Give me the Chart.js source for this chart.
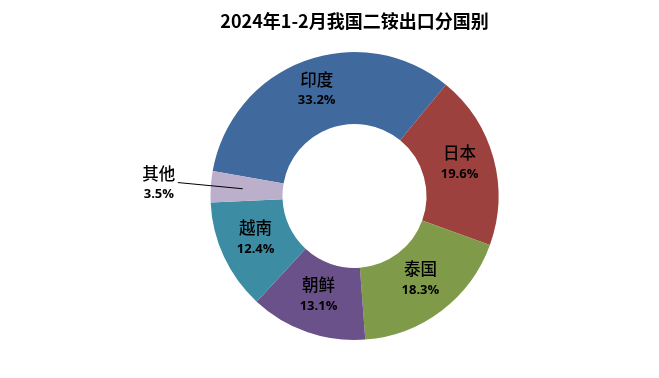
<!DOCTYPE html>
<html>
<head>
<meta charset="utf-8">
<script src="https://cdn.jsdelivr.net/npm/chart.js@4"></script>
<style>
  html, body { margin: 0; padding: 0; background: #fff; }
  #wrap { width: 659px; height: 378px; }
</style>
</head>
<body>
<div id="wrap"><canvas id="c" width="659" height="378"></canvas></div>
<script>
const countries = ['印度', '日本', '泰国', '朝鲜', '越南', '其他'];
const shares = [33.2, 19.6, 18.3, 13.1, 12.4, 3.5];
const colors = ['#406A9D', '#9D413E', '#7F9A48', '#6A518A', '#3C8CA4', '#BBAFCB'];

// Category name + percentage inside each slice, leader line for the small one
const sliceLabels = {
  id: 'sliceLabels',
  afterDatasetsDraw(chart) {
    const ctx = chart.ctx;
    const meta = chart.getDatasetMeta(0);
    ctx.save();
    ctx.textAlign = 'center';
    ctx.textBaseline = 'middle';
    ctx.fillStyle = '#000';
    meta.data.forEach((arc, i) => {
      const { x, y, startAngle, endAngle, innerRadius, outerRadius } = arc.getProps(
        ['x', 'y', 'startAngle', 'endAngle', 'innerRadius', 'outerRadius'], true);
      const mid = (startAngle + endAngle) / 2;
      const rMid = (innerRadius + outerRadius) / 2 + 1;
      let lx, ly;
      if (shares[i] < 5) {
        const x0 = x + Math.cos(mid) * (rMid + 3);
        const y0 = y + Math.sin(mid) * (rMid + 3);
        const r1 = outerRadius + 33;
        const x1 = x + Math.cos(mid) * r1;
        const y1 = y + Math.sin(mid) * r1 - 2;
        ctx.strokeStyle = '#000';
        ctx.lineWidth = 1;
        ctx.beginPath();
        ctx.moveTo(x0, y0);
        ctx.lineTo(x1, y1);
        ctx.stroke();
        lx = x1 - 19;
        ly = y1 + 1;
      } else {
        lx = x + Math.cos(mid) * rMid;
        ly = y + Math.sin(mid) * rMid - 4;
      }
      ctx.font = '500 16.5px "Noto Sans CJK SC", sans-serif';
      ctx.fillText(countries[i], lx, ly - 10);
      ctx.font = 'bold 13px "Open Sans", "Liberation Sans", sans-serif';
      ctx.fillText(shares[i].toFixed(1) + '%', lx, ly + 11);
    });
    ctx.restore();
  }
};

new Chart(document.getElementById('c'), {
  type: 'doughnut',
  data: {
    labels: countries,
    datasets: [{
      data: shares,
      backgroundColor: colors,
      borderWidth: 0
    }]
  },
  options: {
    responsive: false,
    animation: false,
    cutout: '50%',
    rotation: -80,
    layout: { padding: { left: 62, right: 12, top: 0, bottom: 38 } },
    plugins: {
      legend: { display: false },
      tooltip: { enabled: false },
      title: {
        display: true,
        text: '2024年1-2月我国二铵出口分国别',
        color: '#000',
        font: { family: '"Noto Sans CJK SC", sans-serif', size: 18, weight: 'bold' },
        padding: { top: 10, bottom: 20.4 }
      }
    }
  },
  plugins: [sliceLabels]
});
</script>
</body>
</html>
